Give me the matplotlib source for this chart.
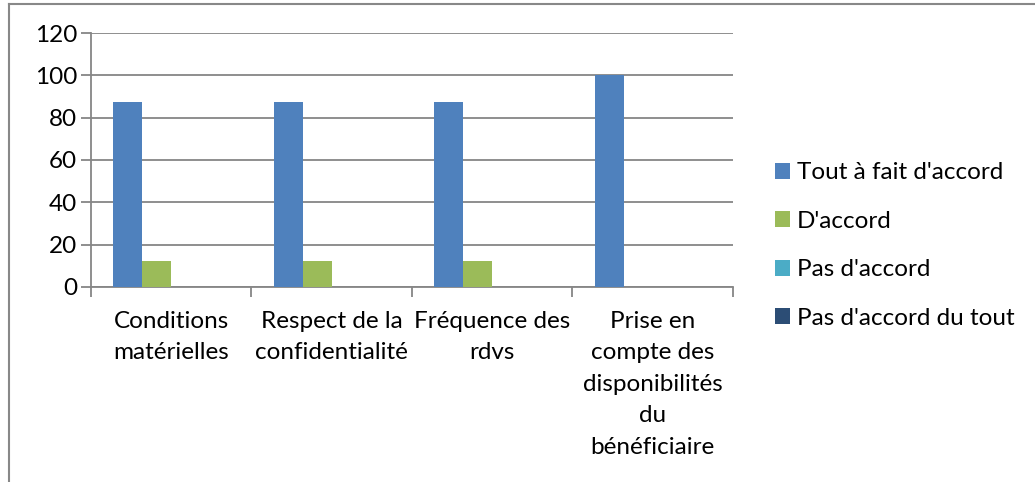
import numpy as np
import matplotlib.pyplot as plt
from matplotlib.lines import Line2D

plt.rcParams['font.family'] = ['Lato', 'DejaVu Sans']

categories = ["Conditions\nmatérielles", "Respect de la\nconfidentialité",
              "Fréquence des\nrdvs",
              "Prise en\ncompte des\ndisponibilités\ndu\nbénéficiaire"]
series_names = ["Tout à fait d'accord", "D'accord", "Pas d'accord",
                "Pas d'accord du tout"]
tout_a_fait = [87.5, 87.5, 87.5, 100]
d_accord = [12.5, 12.5, 12.5, 0]
pas_d_accord = [0, 0, 0, 0]
pas_du_tout = [0, 0, 0, 0]
colors = ['#4F81BD', '#9BBB59', '#4BACC6', '#2C4D75']

values = [tout_a_fait, d_accord, pas_d_accord, pas_du_tout]
fs = 17.5

fig = plt.figure(figsize=(10.35, 4.82), dpi=100)
ax = fig.add_axes([0.0879, 0.4046, 0.6203, 0.5269])

grid_col = '#868686'
x = np.arange(len(categories))
w = 0.18
for i, (vals, name, c) in enumerate(zip(values, series_names, colors)):
    ax.bar(x + (i - 1.5) * w, vals, width=w, color=c, label=name, zorder=3)

ax.set_xlim(-0.5, len(categories) - 0.5)
ax.set_ylim(0, 120)
ax.set_yticks(np.arange(0, 121, 20))
ax.yaxis.grid(True, color=grid_col, lw=1.3, zorder=0)

ax.set_xticks(x)
ax.set_xticklabels(categories, fontsize=fs, linespacing=1.62)
ax.set_xticks(np.arange(-0.5, len(categories)), minor=True)
ax.tick_params(axis='x', which='major', length=0, pad=17)
ax.tick_params(axis='x', which='minor', length=7, width=1.3, color=grid_col)
ax.tick_params(axis='y', length=7, width=1.3, color=grid_col, labelsize=fs, pad=3)

for s in ['top', 'right']:
    ax.spines[s].set_visible(False)
for s in ['left', 'bottom']:
    ax.spines[s].set_color(grid_col)
    ax.spines[s].set_linewidth(1.3)

ax.legend(loc='center left', bbox_to_anchor=(1.065, 0.163), frameon=False,
          fontsize=fs, handlelength=0.62, handleheight=0.62, handletextpad=0.3,
          labelspacing=1.13, borderpad=0, borderaxespad=0)

# outer chart border (left and top visible)
fig.add_artist(Line2D([0.0085, 0.0085], [0, 0.992], color='#888888', lw=1.5))
fig.add_artist(Line2D([0.0085, 1], [0.992, 0.992], color='#888888', lw=1.5))

fig.savefig('out.png', dpi=100)
